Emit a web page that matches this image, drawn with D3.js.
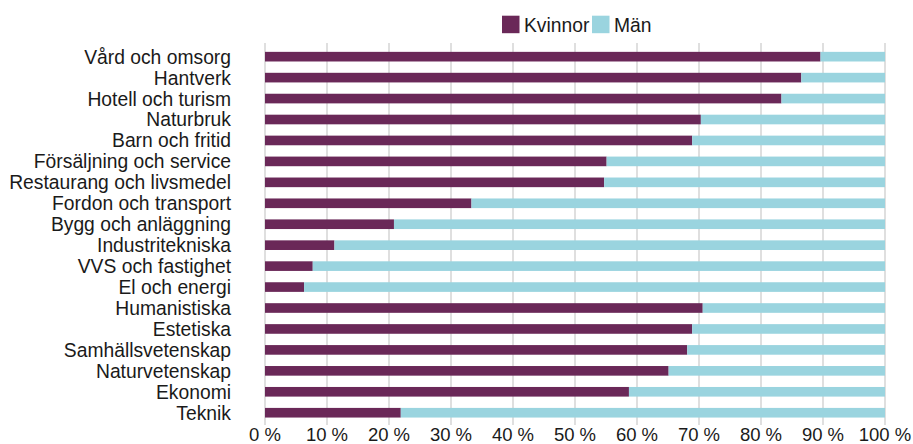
<!DOCTYPE html>
<html>
<head>
<meta charset="utf-8">
<style>
  body { margin: 0; background: #fff; }
  svg { display: block; font-family: "Liberation Sans", Arial, sans-serif; }
</style>
</head>
<body>
<svg width="913" height="444"></svg>
<script src="https://d3js.org/d3.v7.min.js"></script>
<script>

    // categories, top to bottom
    var categories = [
        "Vård och omsorg", "Hantverk", "Hotell och turism", "Naturbruk",
        "Barn och fritid", "Försäljning och service", "Restaurang och livsmedel",
        "Fordon och transport", "Bygg och anläggning", "Industritekniska",
        "VVS och fastighet", "El och energi", "Humanistiska", "Estetiska",
        "Samhällsvetenskap", "Naturvetenskap", "Ekonomi", "Teknik"
    ];

    // share of women, percent (men = the rest)
    var kvinnor = [89.6, 86.5, 83.3, 70.3, 68.9, 55.1, 54.7, 33.3, 20.8, 11.2,
                   7.7, 6.3, 70.6, 68.9, 68.1, 65.1, 58.7, 21.9];
    var man = kvinnor.map(function(v) { return 100 - v; });

    var seriesNames = ["Kvinnor", "Män"];
    var ticks = [0, 10, 20, 30, 40, 50, 60, 70, 80, 90, 100];

    var svg = d3.select("svg");
    var color = d3.scaleOrdinal().domain(seriesNames).range(["#6a2858", "#9ad4df"]);

    var x = d3.scaleLinear().domain([0, 100]).range([265, 885]);
    var y = d3.scaleBand().domain(categories).range([46.2, 423.2])
        .paddingInner(0.54).paddingOuter(0.27);

    // gridlines
    svg.append("g").selectAll("line")
        .data(ticks)
        .enter().append("line")
        .attr("x1", function(d) { return x(d); })
        .attr("x2", function(d) { return x(d); })
        .attr("y1", 43)
        .attr("y2", 425)
        .attr("stroke", "#d4d4d4")
        .attr("stroke-width", 1.5);

    var rows = categories.map(function(c, i) {
        return { cat: c, Kvinnor: kvinnor[i], "Män": man[i] };
    });
    var stacked = d3.stack().keys(seriesNames)(rows);

    svg.append("g").selectAll("g")
        .data(stacked)
        .enter().append("g")
        .attr("fill", function(d) { return color(d.key); })
        .selectAll("rect")
        .data(function(d) { return d; })
        .enter().append("rect")
        .attr("x", function(d) { return x(d[0]); })
        .attr("width", function(d) { return x(d[1]) - x(d[0]); })
        .attr("y", function(d) { return y(d.data.cat); })
        .attr("height", y.bandwidth());

    // category labels
    svg.append("g").selectAll("text")
        .data(categories)
        .enter().append("text")
        .attr("x", 231)
        .attr("y", function(d) { return y(d) + y.bandwidth() / 2; })
        .attr("dy", "0.36em")
        .attr("text-anchor", "end")
        .attr("font-size", 19.3)
        .attr("fill", "#1a1a1a")
        .text(function(d) { return d; });

    // x tick labels
    svg.append("g").selectAll("text")
        .data(ticks)
        .enter().append("text")
        .attr("x", function(d) { return x(d); })
        .attr("y", 441)
        .attr("text-anchor", "middle")
        .attr("font-size", 18.5)
        .attr("fill", "#1a1a1a")
        .text(function(d) { return d + " %"; });

    // legend
    var legend = svg.append("g").selectAll("g")
        .data(seriesNames)
        .enter().append("g")
        .attr("transform", function(d, i) { return "translate(" + [502, 592][i] + ",15.7)"; });

    legend.append("rect")
        .attr("width", 17.5)
        .attr("height", 17.5)
        .attr("fill", function(d) { return color(d); });

    legend.append("text")
        .attr("x", 22)
        .attr("y", 16)
        .attr("font-size", 19.3)
        .attr("fill", "#1a1a1a")
        .text(function(d) { return d; });

</script>
</body>
</html>
